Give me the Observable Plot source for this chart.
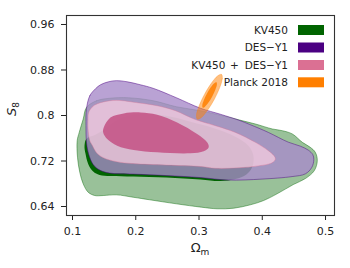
<!DOCTYPE html>
<html><head><meta charset="utf-8">
<script src="https://cdn.jsdelivr.net/npm/d3@7"></script>
<script src="https://cdn.jsdelivr.net/npm/@observablehq/plot@0.6"></script>
<style>body{margin:0;background:#fff} svg{font-family:"DejaVu Sans",sans-serif}</style>
</head><body><div id="chart"></div>
<script>
const xTicks = [0.1, 0.2, 0.3, 0.4, 0.5];
const yTicks = [0.64, 0.72, 0.8, 0.88, 0.96];
const legendLabels = [["KV450"], ["DES−Y1"], ["KV450", "+", "DES−Y1"], ["Planck 2018"]];
const legendColors = ["#006400", "#4b0082", "#db7093", "#ff7f00"];

// contour outlines: [Omega_m, S8]
const kv450_95 = [[0.1221,0.8142],[0.1379,0.8259],[0.1585,0.8303],[0.1885,0.8312],[0.2280,0.8259],[0.2643,0.8154],[0.3022,0.8084],[0.3370,0.7996],[0.3622,0.7926],[0.3891,0.7851],[0.4160,0.7763],[0.4318,0.7733],[0.4476,0.7675],[0.4634,0.7528],[0.4760,0.7440],[0.4839,0.7352],[0.4870,0.7207],[0.4823,0.7031],[0.4681,0.6891],[0.4491,0.6786],[0.4234,0.6623],[0.4022,0.6505],[0.3812,0.6430],[0.3548,0.6370],[0.3286,0.6360],[0.3038,0.6388],[0.2643,0.6447],[0.2221,0.6518],[0.1959,0.6563],[0.1695,0.6605],[0.1485,0.6593],[0.1352,0.6593],[0.1248,0.6651],[0.1169,0.6798],[0.1115,0.7002],[0.1079,0.7265],[0.1074,0.7558],[0.1106,0.7703],[0.1169,0.7938]];
const kv450_68 = [[0.1221,0.7593],[0.1363,0.7663],[0.1521,0.7768],[0.1727,0.7926],[0.1995,0.8014],[0.2469,0.7996],[0.2864,0.7891],[0.3259,0.7768],[0.3575,0.7628],[0.3780,0.7470],[0.3859,0.7295],[0.3844,0.7102],[0.3749,0.6961],[0.3575,0.6882],[0.3338,0.6847],[0.3022,0.6874],[0.2485,0.6909],[0.1964,0.6926],[0.1600,0.6935],[0.1427,0.6953],[0.1327,0.7014],[0.1248,0.7149],[0.1205,0.7330],[0.1190,0.7470]];
const des_95 = [[0.1221,0.8119],[0.1273,0.8347],[0.1363,0.8470],[0.1442,0.8540],[0.1569,0.8593],[0.1695,0.8613],[0.1864,0.8593],[0.2074,0.8540],[0.2275,0.8478],[0.2643,0.8312],[0.3022,0.8128],[0.3338,0.8022],[0.3622,0.7921],[0.3812,0.7838],[0.4096,0.7703],[0.4412,0.7531],[0.4602,0.7461],[0.4728,0.7391],[0.4799,0.7312],[0.4815,0.7224],[0.4784,0.7089],[0.4681,0.6974],[0.4471,0.6926],[0.3997,0.6882],[0.3464,0.6865],[0.3022,0.6909],[0.2485,0.6944],[0.1959,0.6970],[0.1585,0.6988],[0.1431,0.7040],[0.1327,0.7137],[0.1253,0.7330],[0.1221,0.7528],[0.1213,0.7821]];
const combined_95 = [[0.1253,0.8049],[0.1316,0.8154],[0.1395,0.8207],[0.1600,0.8261],[0.1790,0.8261],[0.1968,0.8233],[0.2338,0.8172],[0.2627,0.8084],[0.2943,0.7928],[0.3259,0.7821],[0.3575,0.7703],[0.3891,0.7528],[0.4096,0.7382],[0.4183,0.7295],[0.4207,0.7233],[0.4160,0.7172],[0.4096,0.7145],[0.3733,0.7089],[0.3259,0.7072],[0.3038,0.7102],[0.2485,0.7128],[0.1959,0.7154],[0.1695,0.7189],[0.1485,0.7259],[0.1379,0.7347],[0.1316,0.7470],[0.1273,0.7558],[0.1245,0.7768],[0.1245,0.7944]];
const combined_68 = [[0.1494,0.7791],[0.1600,0.7966],[0.1810,0.8036],[0.2074,0.8054],[0.2338,0.8014],[0.2654,0.7879],[0.2970,0.7675],[0.3128,0.7528],[0.3153,0.7440],[0.3074,0.7370],[0.2864,0.7335],[0.2338,0.7352],[0.1968,0.7395],[0.1706,0.7470],[0.1548,0.7587],[0.1485,0.7703]];
const planck_95 = [[0.3356,0.8723],[0.3368,0.8648],[0.3326,0.8487],[0.3241,0.8283],[0.3135,0.8093],[0.3037,0.7965],[0.2973,0.7935],[0.2960,0.8011],[0.3002,0.8172],[0.3088,0.8375],[0.3194,0.8566],[0.3292,0.8694]];
const planck_68 = [[0.3276,0.8585],[0.3283,0.8543],[0.3258,0.8451],[0.3209,0.8336],[0.3149,0.8227],[0.3094,0.8155],[0.3059,0.8137],[0.3052,0.8179],[0.3077,0.8271],[0.3126,0.8386],[0.3186,0.8495],[0.3241,0.8567]];

const shape = (data, opts) => Plot.line(data, {x: d => d[0], y: d => d[1], curve: "catmull-rom-closed", ...opts});

const svg = Plot.plot({
  width: 350, height: 268,
  marginLeft: 66, marginRight: 16, marginTop: 15, marginBottom: 53,
  x: {domain: [0.0905, 0.5142]},
  y: {domain: [0.6242, 0.9758]},
  style: {fontFamily: "DejaVu Sans", color: "#222", background: "white"},
  marks: [
    shape(kv450_95, {fill: "#006400", fillOpacity: 0.4, stroke: "#006400", strokeOpacity: 0.55, strokeWidth: 0.8}),
    shape(kv450_68, {fill: "#006400", fillOpacity: 1, stroke: "none"}),
    shape(des_95, {fill: "rgb(168,139,201)", fillOpacity: 0.8, stroke: "#4b0082", strokeOpacity: 0.6, strokeWidth: 0.8}),
    shape(combined_95, {fill: "rgb(250,207,224)", fillOpacity: 0.72, stroke: "#db7093", strokeOpacity: 0.6, strokeWidth: 0.6}),
    shape(combined_68, {fill: "rgb(195,80,132)", fillOpacity: 0.85, stroke: "none"}),
    shape(planck_95, {fill: "#ff7f00", fillOpacity: 0.5, stroke: "#ff7f00", strokeOpacity: 0.5, strokeWidth: 0.6}),
    shape(planck_68, {fill: "#ff7f00", fillOpacity: 0.85, stroke: "none"}),
    Plot.axisX({ticks: xTicks, tickSize: 5, tickPadding: 7, fontSize: 11, label: null, tickFormat: d => String(d)}),
    Plot.axisY({ticks: yTicks, tickSize: 5, tickPadding: 7, fontSize: 11, label: null, tickFormat: d => String(d)}),
    Plot.frame({stroke: "#333", strokeWidth: 1.1})
  ]
});

const s = d3.select(svg);
// axis labels
const xl = s.append("text").attr("x", 200).attr("y", 252).attr("text-anchor", "middle")
  .attr("font-size", 13).attr("fill", "#222");
xl.append("tspan").text("Ω");
xl.append("tspan").attr("font-size", 9).attr("dy", 3).text("m");
const yl = s.append("text").attr("transform", "translate(15.5,109) rotate(-90)").attr("text-anchor", "middle")
  .attr("font-size", 13).attr("fill", "#222");
yl.append("tspan").attr("font-style", "italic").text("S");
yl.append("tspan").attr("font-size", 9).attr("dy", 3).text("8");
// legend
const rowY = [30, 47.5, 65, 82.3];
legendLabels.forEach((parts, i) => {
  const t = s.append("text").attr("x", 288).attr("y", rowY[i] + 3.8).attr("text-anchor", "end")
    .attr("font-size", 10.5).attr("fill", "#222");
  parts.forEach((p, j) => t.append("tspan").attr("dx", j === 0 ? 0 : (j === 1 ? 4.5 : 6)).text(p));
  s.append("rect").attr("x", 298).attr("y", rowY[i] - 5).attr("width", 26).attr("height", 10)
    .attr("fill", legendColors[i]);
});
document.getElementById("chart").append(svg);
</script>
</body></html>
